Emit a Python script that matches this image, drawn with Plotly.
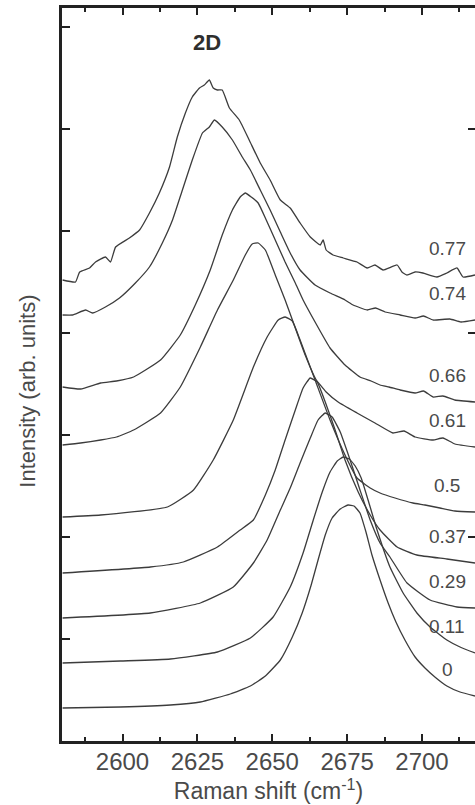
import plotly.graph_objects as go

# Raman shift (cm^-1) and intensity (arb. units), one spectrum per label
labels = ["0", "0.11", "0.29", "0.37", "0.5", "0.61", "0.66", "0.74", "0.77"]

x_0 = [2580, 2599.3, 2616, 2626, 2636, 2642.7, 2647.7, 2652.7, 2656.7, 2660, 2663, 2665.3, 2667.7, 2670,
       2672.7, 2675.3, 2677.3, 2679.3, 2681.3, 2683.3, 2686, 2688.7, 2691.3, 2694.3, 2697.7, 2701, 2704.3,
       2708.3, 2712.7, 2717.7]
y_0 = [33, 34, 36, 39, 47, 55, 65, 81, 104, 128, 156, 181, 206, 223,
       232, 236, 235, 228, 209, 186, 161, 138, 119, 101, 84, 73, 64,
       55, 49, 45]

x_011 = [2580, 2599.3, 2616, 2631.7, 2642.7, 2650.3, 2656, 2660.3, 2663.7, 2666.7, 2669.3, 2671.7, 2673.7,
         2675.7, 2677.7, 2679.7, 2682, 2685, 2689.3, 2693.7, 2698.3, 2702.7, 2708.3, 2712.7, 2717.7]
y_011 = [78, 80, 82, 89, 103, 124, 154, 188, 221, 249, 269, 280, 284,
         282, 275, 263, 241, 211, 174, 148, 128, 114, 101, 94, 88]

x_029 = [2580, 2609.3, 2626, 2637, 2643.7, 2648.3, 2652.7, 2656, 2659.3, 2662.7, 2665.3, 2667.7, 2670,
         2672.7, 2676, 2679.3, 2682.7, 2686, 2689.3, 2695, 2702.7, 2711.7, 2717.7]
y_029 = [123, 128, 138, 154, 178, 201, 231, 253, 278, 303, 321, 328, 324,
         309, 281, 251, 221, 198, 184, 158, 141, 134, 133]

x_037 = [2580, 2609.3, 2620.3, 2631.7, 2639.3, 2643.7, 2647.7, 2651, 2654.3, 2657.7, 2660.3, 2662.7, 2665,
         2667.7, 2671, 2674.3, 2678.7, 2682.7, 2686, 2691.7, 2698.3, 2708.3, 2717.7]
y_037 = [168, 174, 179, 194, 211, 221, 246, 271, 301, 331, 353, 363, 359,
         339, 311, 281, 249, 226, 211, 194, 186, 182, 178]

x_05 = [2580, 2592.7, 2615, 2623.7, 2630.3, 2637, 2643.7, 2648.3, 2652, 2654.3, 2656.7, 2659.3, 2664.3,
        2669.3, 2674.3, 2678.3, 2682.7, 2686, 2691, 2697, 2701, 2706, 2711, 2717.7]
y_05 = [224, 226, 234, 251, 281, 321, 374, 404, 421, 424, 420, 401, 361,
        321, 286, 263, 253, 248, 243, 238, 236, 233, 230, 229]

x_061 = [2580, 2586, 2592.7, 2598, 2603.7, 2612.7, 2619.3, 2626, 2631.7, 2637, 2641, 2643.3, 2645.3, 2647.7,
         2651, 2654.3, 2657.7, 2661, 2664.5, 2668, 2672, 2678.3, 2684.3, 2690.3, 2694, 2697.7, 2703.7, 2707,
         2711, 2717.7]
y_061 = [296, 298, 301, 304, 311, 328, 354, 394, 431, 461, 486, 497, 498, 491,
         466, 441, 413, 386, 362, 349, 339, 328, 318, 308, 310, 304, 301, 303,
         297, 294]

x_066 = [2580, 2586, 2592.7, 2598, 2603.7, 2612.7, 2619.3, 2624.3, 2629.3, 2633.3, 2636.7, 2639.3, 2641,
         2643, 2645.3, 2648, 2651, 2654.3, 2657.7, 2660.3, 2664.3, 2669.3, 2674.3, 2679.3, 2683, 2686, 2689,
         2692.7, 2697.7, 2700.5, 2703.7, 2707, 2711, 2717.7]
y_066 = [354, 352, 358, 360, 364, 381, 406, 436, 471, 506, 531, 544, 548,
         544, 538, 521, 501, 479, 458, 441, 419, 393, 376, 364, 360, 356, 354,
         351, 348, 350, 344, 345, 341, 339]

x_074 = [2580, 2583.3, 2587.7, 2590, 2594.3, 2599, 2604.3, 2609, 2613.3, 2616.7, 2620, 2623.3, 2626.7,
         2629, 2630.7, 2633.3, 2636.7, 2640, 2642.7, 2646, 2649.3, 2652.7, 2656, 2659.3, 2664.3, 2669.3,
         2674.3, 2677, 2681.7, 2684.5, 2687.7, 2692.7, 2697.7, 2700.5, 2703.7, 2709.3, 2713, 2717.7]
y_074 = [426, 426, 431, 428, 434, 443, 458, 474, 498, 521, 551, 581, 608,
         614, 621, 614, 601, 584, 571, 551, 531, 509, 488, 471, 456, 448,
         441, 436, 431, 433, 429, 426, 423, 425, 421, 422, 419, 421]

x_077 = [2580, 2584.3, 2585.7, 2589, 2591, 2594.3, 2596, 2597.7, 2602.3, 2605.7, 2609, 2612.3, 2615.7,
         2618.3, 2621, 2623.3, 2625.7, 2627.3, 2629, 2630.3, 2631.7, 2633.3, 2635.7, 2639, 2642.3, 2646,
         2649.3, 2652.7, 2656, 2659.3, 2662.7, 2666, 2667, 2668, 2670.3, 2673.7, 2678.3, 2681.7, 2684.3,
         2687, 2691.7, 2693.3, 2695, 2697.7, 2700.3, 2705, 2708.3, 2711.7, 2713.7, 2717.7]
y_077 = [461, 459, 469, 473, 479, 484, 479, 494, 503, 511, 528, 548, 574,
         604, 628, 644, 653, 656, 661, 653, 651, 651, 633, 621, 601, 578,
         561, 541, 533, 518, 504, 496, 501, 491, 486, 483, 479, 473, 476,
         471, 476, 469, 466, 469, 468, 464, 468, 473, 464, 466]

series_x = [x_0, x_011, x_029, x_037, x_05, x_061, x_066, x_074, x_077]
series_y = [y_0, y_011, y_029, y_037, y_05, y_061, y_066, y_074, y_077]

x_range = [2579.8, 2717.7]
y_range = [0, 733]
major_x_ticks = [2600, 2625, 2650, 2675, 2700]

line_color = "#3c3c3c"
text_color = "#4a4a4a"
font_family = "Liberation Sans, Arial, Helvetica, sans-serif"

fig = go.Figure()
for lab, xs, ys in zip(labels, series_x, series_y):
    fig.add_trace(go.Scatter(
        x=xs, y=ys, mode="lines", name=lab,
        line=dict(color=line_color, width=1.3, shape="spline", smoothing=0.4),
        showlegend=False, hoverinfo="skip"))

# invisible trace carrying the right-hand tick axis
fig.add_trace(go.Scatter(x=[None], y=[None], yaxis="y2", mode="lines",
                         showlegend=False, hoverinfo="skip"))

annotations = []
label_x = 2708.5
for lab, ys in zip(labels, series_y):
    annotations.append(dict(
        x=label_x, y=ys[-1] + 27, xref="x", yref="y", text=lab, showarrow=False,
        font=dict(family=font_family, size=19, color=text_color),
        xanchor="center", yanchor="middle"))

annotations.append(dict(
    x=2628.3, y=699, xref="x", yref="y", text="<b>2D</b>", showarrow=False,
    font=dict(family=font_family, size=22, color="#2e2e2e"),
    xanchor="center", yanchor="middle"))

annotations.append(dict(
    x=-0.083, y=0.4775, xref="paper", yref="paper", text="Intensity (arb. units)",
    textangle=-90, showarrow=False,
    font=dict(family=font_family, size=22, color=text_color),
    xanchor="center", yanchor="middle"))

fig.update_layout(
    width=475, height=805,
    margin=dict(l=62, r=0, t=8, b=64),
    paper_bgcolor="white", plot_bgcolor="white",
    annotations=annotations,
    xaxis=dict(
        range=x_range, tickvals=major_x_ticks, ticktext=[str(v) for v in major_x_ticks],
        ticks="inside", ticklen=7, tickwidth=2, tickcolor="#222",
        minor=dict(dtick=12.5, tick0=2587.5, ticks="inside", ticklen=4, tickwidth=2, tickcolor="#222",
                   showgrid=False),
        showline=True, linewidth=3, linecolor="#222", mirror="ticks",
        showgrid=False, zeroline=False,
        tickfont=dict(family=font_family, size=24, color=text_color),
        ticklabelstandoff=-3,
        title=dict(text="Raman shift (cm<sup>-1</sup>)", standoff=0,
                   font=dict(family=font_family, size=23, color=text_color)),
    ),
    yaxis=dict(
        range=y_range, tick0=0, dtick=102,
        ticks="inside", ticklen=8, tickwidth=2, tickcolor="#222",
        showticklabels=False, showline=True, linewidth=3, linecolor="#222",
        showgrid=False, zeroline=False,
    ),
    yaxis2=dict(
        range=y_range, overlaying="y", side="right", tick0=0, dtick=204,
        ticks="inside", ticklen=7, tickwidth=2, tickcolor="#222",
        showticklabels=False, showline=False, showgrid=False, zeroline=False,
    ),
)

fig.write_html("out.html",
               config={"displayModeBar": False},
               post_script="document.body.style.margin='0px';document.body.style.overflow='hidden';")
